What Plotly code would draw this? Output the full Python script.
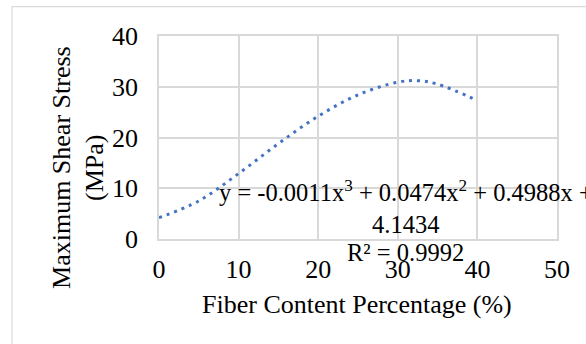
import plotly.graph_objects as go

# Data (trendline of max shear stress vs fiber content)
fiber_pct = [0, 5, 10, 15, 20, 25, 30, 32.5, 35, 40]
shear_mpa = [4.2, 7.5, 12.9, 18.8, 24.2, 28.4, 30.9, 31.2, 30.5, 27.3]
x_ticks = [0, 10, 20, 30, 40, 50]
y_ticks = [0, 10, 20, 30, 40]
eq_lines = ["y = -0.0011x<sup>3</sup> + 0.0474x<sup>2</sup> + 0.4988x +", "4.1434", "R² = 0.9992"]
x_title = "Fiber Content Percentage (%)"
y_title_lines = ["Maximum Shear Stress", "(MPa)"]

FONT = "Liberation Serif, Times New Roman, serif"
GRID = "#d9d9d9"
FS = 26

fig = go.Figure()
fig.add_trace(go.Scatter(
    x=fiber_pct, y=shear_mpa, mode="lines",
    line=dict(color="#4472C4", width=3, dash="3px,5px", shape="spline", smoothing=1.0),
    showlegend=False, hoverinfo="skip",
))

fig.update_layout(
    width=586, height=344,
    margin=dict(l=159, r=29, t=36, b=105),
    paper_bgcolor="white", plot_bgcolor="white",
    font=dict(family=FONT, size=FS, color="black"),
    xaxis=dict(range=[0, 50], tickvals=x_ticks, showgrid=True, gridcolor=GRID, gridwidth=1.5,
               zeroline=False, showline=True, linecolor=GRID, linewidth=1.5, mirror=True,
               ticks="", ticklabelstandoff=6, tickfont=dict(size=FS)),
    yaxis=dict(range=[0, 40], tickvals=y_ticks, showgrid=True, gridcolor=GRID, gridwidth=1.5,
               zeroline=False, showline=True, linecolor=GRID, linewidth=1.5, mirror=True,
               ticks="", ticklabelstandoff=14, tickfont=dict(size=FS)),
)

# outer chart border
fig.add_shape(type="rect", xref="paper", yref="paper",
              x0=-0.3693, x1=1.2, y0=-0.7, y1=1.1443,
              line=dict(color=GRID, width=1.2), fillcolor="rgba(0,0,0,0)", layer="below")

# equation lines
for txt, yy in zip(eq_lines, [0.235, 0.07, -0.068]):
    fig.add_annotation(text=txt, xref="paper", yref="paper", x=0.6206, y=yy,
                       xanchor="center", yanchor="middle", showarrow=False,
                       font=dict(family=FONT, size=24.5, color="black"))

# axis titles
fig.add_annotation(text=x_title, xref="paper", yref="paper", x=0.4975, y=-0.325,
                   xanchor="center", yanchor="middle", showarrow=False,
                   font=dict(family=FONT, size=FS))
for txt, xx in zip(y_title_lines, [-0.2437, -0.1608]):
    fig.add_annotation(text=txt, xref="paper", yref="paper", x=xx, y=0.35,
                       xanchor="center", yanchor="middle", showarrow=False, textangle=-90,
                       font=dict(family=FONT, size=FS))

fig.write_html("out.html")
